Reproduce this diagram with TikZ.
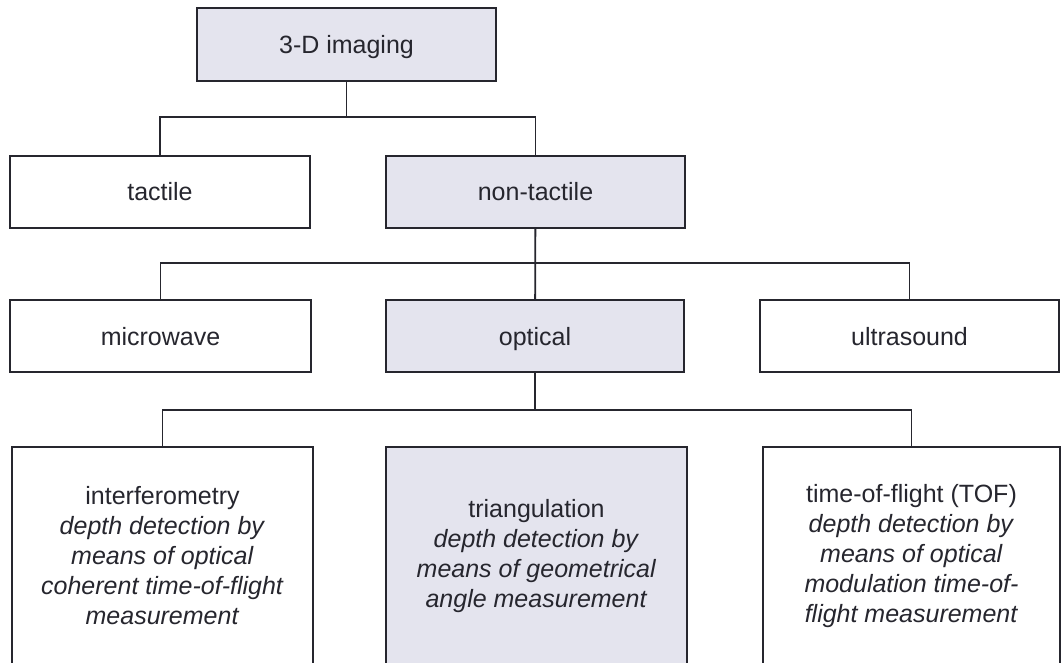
\documentclass[tikz,border=0pt]{standalone}
\usepackage{fontspec}
\setmainfont{Liberation Sans}
\usepackage{tikz}
\usetikzlibrary{positioning,calc}
\definecolor{ink}{RGB}{38,38,46}
\definecolor{shadebg}{RGB}{228,228,238}

\begin{document}
\begin{tikzpicture}[
  x=1pt,y=-1pt,
  box/.style={rectangle,draw=ink,line width=1.8pt,fill=white,inner sep=0pt,
    text=ink,font=\fontsize{25}{30}\selectfont,align=center},
  shd/.style={box,fill=shadebg},
  one/.style={text height=22pt,text depth=4pt},
  lnk/.style={draw=ink,line width=1.8pt}
]
\useasboundingbox (0,0) rectangle (1061,663);
\fill[white] (0,0) rectangle (1061,663);

% --- top ---
\node[shd,one,minimum width=299pt,minimum height=73pt] (img) at (346.5,44.5) {3-D imaging};

% --- second row ---
\node[box,one,minimum width=300pt,minimum height=72pt] (tac) at (160,192) {tactile};
\node[shd,one,minimum width=299pt,minimum height=72pt] (ntac) at (535.5,192) {non-tactile};

% --- third row ---
\node[box,one,minimum width=301pt,minimum height=72pt] (micro) at (160.5,336) {microwave};
\node[shd,one,minimum width=298pt,minimum height=72pt] (opt) at (535,336) {optical};
\node[box,one,minimum width=299pt,minimum height=72pt] (ultra) at (909.5,336) {ultrasound};

% --- bottom row ---
\node[box,minimum width=301pt,minimum height=218pt] (intf) at (162.5,556)
  {interferometry\\ \textit{depth detection by}\\ \textit{means of optical}\\
   \textit{coherent time-of-flight}\\ \textit{measurement}};
\node[shd,minimum width=301pt,minimum height=218pt] (tri) at (536.5,556)
  {triangulation\\ \textit{depth detection by}\\ \textit{means of geometrical}\\
   \textit{angle measurement}};
\node[box,minimum width=297pt,minimum height=218pt] (tof) at (911.5,556)
  {time-of-flight (TOF)\\ \textit{depth detection by}\\ \textit{means of optical}\\
   \textit{modulation time-of-}\\ \textit{flight measurement}};

% --- connectors ---
\coordinate (b1) at (346.5,117);
\coordinate (b2) at (535.5,263);
\coordinate (b3) at (535,410);
\draw[lnk] (img) -- (b1);
\draw[lnk] (tac.north) |- (b1) -| (ntac.north);
\draw[lnk] (ntac) -- (opt);
\draw[lnk] (micro.north) |- (b2) -| (ultra.north);
\draw[lnk] (opt.south) -- (b3);
\draw[lnk] (intf.north) |- (b3) -| (tof.north);
\end{tikzpicture}
\end{document}
